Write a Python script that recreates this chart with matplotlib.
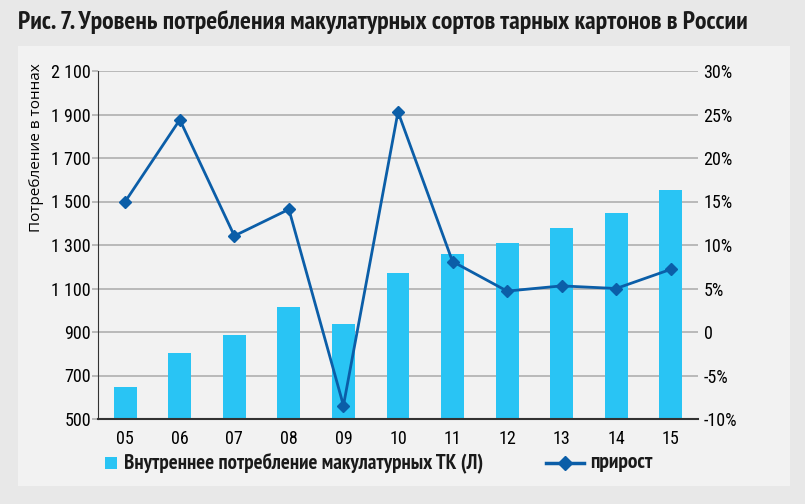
import matplotlib
matplotlib.use("Agg")
import matplotlib.pyplot as plt
from matplotlib import font_manager as fm
from matplotlib.lines import Line2D
from matplotlib.patches import Rectangle
from matplotlib.ticker import FuncFormatter

years = ["05", "06", "07", "08", "09", "10", "11", "12", "13", "14", "15"]
consumption = [647, 804, 887, 1015, 937, 1172, 1258, 1308, 1380, 1447, 1552]
growth = [15.0, 24.4, 11.05, 14.1, -8.45, 25.3, 8.1, 4.7, 5.3, 5.0, 7.2]

left_ticks = [500, 700, 900, 1100, 1300, 1500, 1700, 1900, 2100]
right_ticks = [-10, -5, 0, 5, 10, 15, 20, 25, 30]

bar_label = "Внутреннее потребление макулатурных ТК (Л)"
line_label = "прирост"

bar_color = "#29c4f4"
line_color = "#0b5ea8"

# pick installed fonts with cyrillic, DejaVu as the fallback
installed = {f.name for f in fm.fontManager.ttflist}
def pick(prefs):
    return [n for n in prefs if n in installed][:1] + ["DejaVu Sans"]

narrow = pick(["PT Sans Narrow", "Fira Sans Condensed", "Roboto Condensed",
               "Open Sans Condensed", "Liberation Sans Narrow", "Archivo Narrow"])
tickfont = pick(["Roboto Condensed", "Fira Sans Condensed", "Carlito", "PT Sans Narrow"])

W, H = 805, 504
fig = plt.figure(figsize=(W / 100, H / 100), dpi=100, facecolor="#e8e8e8")

# inner light panel
fig.patches.append(Rectangle((18 / W, 1 - 486 / H), (790 - 18) / W, (486 - 46) / H,
                             transform=fig.transFigure, facecolor="#f2f2f2",
                             edgecolor="none", zorder=-5))

fig.text(18 / W, 1 - 22 / H, "Рис. 7. Уровень потребления макулатурных сортов тарных картонов в России",
         family=narrow, fontsize=18.5, fontweight="bold", va="center", ha="left", color="#1a1a1a")

ax = fig.add_axes([98 / W, 1 - 419 / H, 600 / W, 348 / H])
ax.set_facecolor("none")
x = list(range(len(years)))
ax.bar(x, consumption, width=0.42, color=bar_color, zorder=2)
ax.set_xlim(-0.5, len(years) - 0.5)
ax.set_ylim(500, 2100)
ax.set_yticks(left_ticks)
ax.yaxis.set_major_formatter(FuncFormatter(lambda v, p: f"{int(v):,}".replace(",", " ")))
ax.set_xticks(x)
ax.set_xticklabels(years)
ax.grid(axis="y", color="#b5b5b5", linewidth=1.3, zorder=1)
for s in ["top", "right"]:
    ax.spines[s].set_visible(False)
ax.spines["left"].set_color("#333333")
ax.spines["bottom"].set_color("#333333")
ax.spines["bottom"].set_linewidth(1.5)
ax.tick_params(axis="y", length=4, color="#b5b5b5", width=1.3, pad=1, labelsize=13)
ax.tick_params(axis="x", length=0, pad=8, labelsize=13)
for lab in ax.get_xticklabels() + ax.get_yticklabels():
    lab.set_family(tickfont)
ax.set_ylabel("Потребление в тоннах", fontsize=11, family=["Open Sans", "DejaVu Sans"], labelpad=4)
ax.yaxis.set_label_coords(-54 / 600, 0.78)

ax2 = ax.twinx()
ax2.set_ylim(-10, 30)
ax2.set_yticks(right_ticks)
ax2.set_yticklabels([f"{t}%" if t != 0 else "0" for t in right_ticks])
for s in ["top", "right", "left", "bottom"]:
    ax2.spines[s].set_visible(False)
ax2.tick_params(axis="y", length=0, pad=4, labelsize=13)
for lab in ax2.get_yticklabels():
    lab.set_family(tickfont)
ax2.plot(x, growth, color=line_color, linewidth=2, marker="D", markersize=6.5, zorder=3)

# legend, laid out by hand to get the small square and the longer line key
ly = 1 - 463 / H
fig.patches.append(Rectangle((105 / W, ly - 6 / H), 12 / W, 12 / H, transform=fig.transFigure,
                             facecolor=bar_color, edgecolor="none"))
fig.text(124 / W, ly, bar_label, family=narrow, fontweight="bold", fontsize=15,
         va="center", ha="left", color="#1a1a1a")
fig.add_artist(Line2D([546 / W, 584 / W], [ly, ly], transform=fig.transFigure,
                      color=line_color, linewidth=2.5))
fig.add_artist(Line2D([565 / W], [ly], transform=fig.transFigure, color=line_color,
                      marker="D", markersize=7, linestyle="none"))
fig.text(590 / W, ly, line_label, family=narrow, fontweight="bold", fontsize=15.5,
         va="center", ha="left", color="#1a1a1a")

fig.savefig("out.png", dpi=100, facecolor=fig.get_facecolor())
